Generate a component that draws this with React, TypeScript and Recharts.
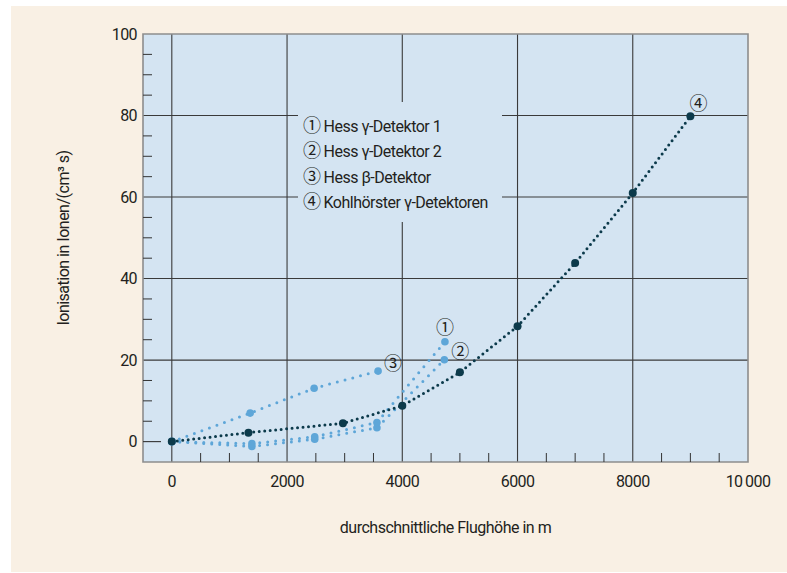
import {
	CartesianGrid,
	LabelList,
	Legend,
	Line,
	LineChart,
	ReferenceArea,
	XAxis,
	YAxis,
} from 'recharts';

// Hess 1912 balloon flights and Kohlhörster 1913/14
const hess1Height = [0, 1390, 2480, 3560, 4740];
const hess1Ion = [0, -0.5, 1.2, 4.7, 24.5];
const hess2Height = [0, 1390, 2480, 3560, 4730];
const hess2Ion = [0, -1.2, 0.6, 3.4, 20.1];
const hessBetaHeight = [0, 1360, 2470, 3580];
const hessBetaIon = [0, 7.0, 13.1, 17.3];
const kohlHeight = [0, 1330, 2970, 4000, 5000, 6000, 7000, 8000, 9000];
const kohlIon = [0, 2.2, 4.5, 8.8, 17, 28.3, 43.8, 61, 79.8];

const legendMarks = ['①', '②', '③', '④'];
const legendNames = [
	'Hess γ-Detektor 1',
	'Hess γ-Detektor 2',
	'Hess β-Detektor',
	'Kohlhörster γ-Detektoren',
];

const xDomain = [-500, 10000];
const yDomain = [-5, 100];
const xTicks = Array.from({ length: 21 }, (_, i) => i * 500);
const yTicks = Array.from({ length: 21 }, (_, i) => i * 5);
const xGrid = [0, 2000, 4000, 6000, 8000];
const yGrid = [20, 40, 60, 80];

const FONT = 'Roboto, "Noto Sans", sans-serif';
const MARK_FONT = '"Noto Sans CJK JP", "Noto Sans CJK SC", sans-serif';
const TEXT = '#231f20';
const LIGHT = '#5ea6d8';
const DARK = '#0c3a4b';

const toPoints = (xs: number[], ys: number[]) =>
	xs.map((x, i) => ({ x, y: ys[i] }));

const XTick = ({ x, y, payload }: any) => {
	const v = payload.value;
	const major = v % 2000 === 0;
	return (
		<g>
			{!major && v !== 10000 && (
				<line x1={x} x2={x} y1={y} y2={y - 9} stroke="#333" strokeWidth={1} />
			)}
			{(major || v === 10000) && (
				<text
					x={x}
					y={y + 19}
					textAnchor="middle"
					dominantBaseline="central"
					fill={TEXT}
					fontSize={16}
					fontFamily={FONT}
					letterSpacing={-0.6}
				>
					{v === 10000 ? '10\u2009000' : v}
				</text>
			)}
		</g>
	);
};

const YTick = ({ x, y, payload }: any) => {
	const v = payload.value;
	const major = v % 20 === 0;
	return (
		<g>
			{!major && (
				<line x1={x} x2={x + 9} y1={y} y2={y} stroke="#333" strokeWidth={1} />
			)}
			{v === 0 && (
				<line x1={x} x2={x + 18} y1={y} y2={y} stroke="#333" strokeWidth={1.1} />
			)}
			{major && (
				<text
					x={x - 6}
					y={y}
					textAnchor="end"
					dominantBaseline="central"
					fill={TEXT}
					fontSize={16}
					fontFamily={FONT}
					letterSpacing={-0.6}
				>
					{v}
				</text>
			)}
		</g>
	);
};

const endLabel =
	(mark: string, last: number, dx: number, dy: number) => (props: any) => {
		if (props.index !== last) return null;
		return (
			<text
				x={props.x + dx}
				y={props.y + dy}
				textAnchor="middle"
				dominantBaseline="central"
				fill={TEXT}
				fontSize={18}
				fontFamily={MARK_FONT}
			>
				{mark}
			</text>
		);
	};

const LegendBox = () => (
	<div
		style={{
			fontFamily: FONT,
			fontSize: 16,
			letterSpacing: -0.5,
			color: TEXT,
			padding: '10px 0 0 5px',
		}}
	>
		{legendNames.map((name, i) => (
			<div
				key={name}
				style={{ height: 25.3, lineHeight: '25.3px', whiteSpace: 'nowrap' }}
			>
				<span style={{ fontFamily: MARK_FONT, fontSize: 18, marginRight: 3 }}>
					{legendMarks[i]}
				</span>
				{name}
			</div>
		))}
	</div>
);

export default function App() {
	return (
		<div
			style={{
				position: 'absolute',
				left: 11,
				top: 6,
				width: 776,
				height: 566,
				background: '#f9f0e4',
			}}
		>
			<LineChart
				width={776}
				height={566}
				margin={{ top: 28, right: 39, bottom: 0, left: 0 }}
			>
				<CartesianGrid
					fill="#d4e4f2"
					stroke="#3a3a3a"
					strokeWidth={1.1}
					horizontalValues={yGrid}
					verticalValues={xGrid}
				/>
				<XAxis
					type="number"
					dataKey="x"
					domain={xDomain}
					ticks={xTicks}
					allowDataOverflow
					height={110}
					axisLine={false}
					tickLine={false}
					tickSize={0}
					tickMargin={0}
					tick={<XTick />}
					interval={0}
					label={{
						content: ({ viewBox }: any) => (
							<text
								x={viewBox.x + viewBox.width / 2}
								y={viewBox.y + 65}
								textAnchor="middle"
								dominantBaseline="central"
								fill={TEXT}
								fontSize={16}
								fontFamily={FONT}
								letterSpacing={-0.5}
							>
								durchschnittliche Flughöhe in m
							</text>
						),
					}}
				/>
				<YAxis
					type="number"
					domain={yDomain}
					ticks={yTicks}
					allowDataOverflow
					width={132}
					axisLine={false}
					tickLine={false}
					tickSize={0}
					tickMargin={0}
					tick={<YTick />}
					interval={0}
					label={{
						content: ({ viewBox }: any) => {
							const cx = 52;
							const cy = viewBox.y + viewBox.height / 2 - 10;
							return (
								<text
									x={cx}
									y={cy}
									transform={`rotate(-90 ${cx} ${cy})`}
									textAnchor="middle"
									dominantBaseline="central"
									fill={TEXT}
									fontSize={16}
									fontFamily={FONT}
									letterSpacing={-0.5}
								>
									Ionisation in Ionen/(cm³ s)
								</text>
							);
						},
					}}
				/>
				<ReferenceArea
					x1={xDomain[0]}
					x2={xDomain[1]}
					y1={yDomain[0]}
					y2={yDomain[1]}
					fill="none"
					stroke="#8d8d8d"
					strokeWidth={1.6}
				/>
				<Legend
					layout="vertical"
					align="center"
					verticalAlign="middle"
					content={<LegendBox />}
					wrapperStyle={{
						position: 'absolute',
						left: 287,
						top: 96,
						width: 204,
						height: 120,
						background: '#d4e4f2',
					}}
				/>
				<Line
					data={toPoints(hessBetaHeight, hessBetaIon)}
					dataKey="y"
					name="Hess β-Detektor"
					stroke={LIGHT}
					strokeWidth={3}
					strokeDasharray="0 8"
					strokeLinecap="round"
					dot={{ r: 3.8, fill: LIGHT, stroke: 'none' }}
					isAnimationActive={false}
				>
					<LabelList content={endLabel('③', hessBetaHeight.length - 1, 15, -9)} />
				</Line>
				<Line
					data={toPoints(hess2Height, hess2Ion)}
					dataKey="y"
					name="Hess γ-Detektor 2"
					stroke={LIGHT}
					strokeWidth={3}
					strokeDasharray="0 8"
					strokeLinecap="round"
					dot={{ r: 3.8, fill: LIGHT, stroke: 'none' }}
					isAnimationActive={false}
				>
					<LabelList content={endLabel('②', hess2Height.length - 1, 16, -10)} />
				</Line>
				<Line
					data={toPoints(hess1Height, hess1Ion)}
					dataKey="y"
					name="Hess γ-Detektor 1"
					stroke={LIGHT}
					strokeWidth={3}
					strokeDasharray="0 8"
					strokeLinecap="round"
					dot={{ r: 3.8, fill: LIGHT, stroke: 'none' }}
					isAnimationActive={false}
				>
					<LabelList content={endLabel('①', hess1Height.length - 1, 0, -16)} />
				</Line>
				<Line
					data={toPoints(kohlHeight, kohlIon)}
					dataKey="y"
					name="Kohlhörster γ-Detektoren"
					stroke={DARK}
					strokeWidth={3}
					strokeDasharray="0 5.5"
					strokeLinecap="round"
					dot={{ r: 4, fill: DARK, stroke: 'none' }}
					isAnimationActive={false}
				>
					<LabelList content={endLabel('④', kohlHeight.length - 1, 8, -14)} />
				</Line>
			</LineChart>
		</div>
	);
}
